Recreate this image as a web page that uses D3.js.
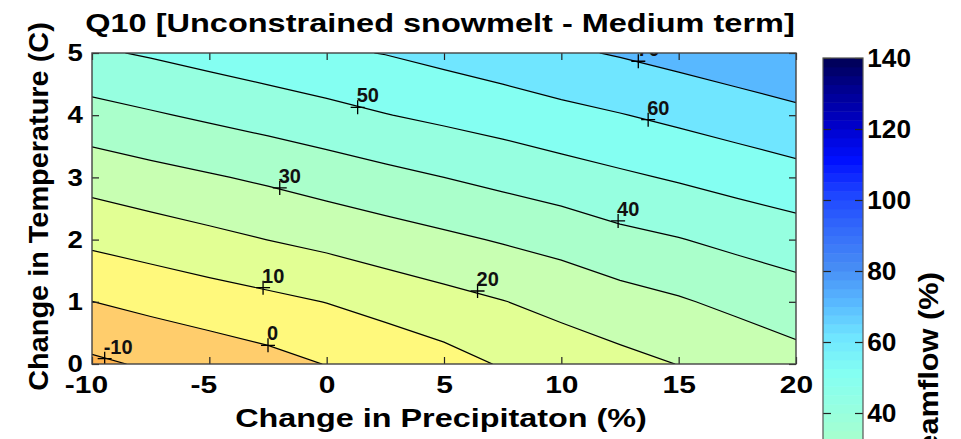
<!DOCTYPE html>
<html>
<head>
<meta charset="utf-8">
<script src="https://cdn.jsdelivr.net/npm/d3@7"></script>
<style>
  body { margin: 0; background: #fff; }
  svg { display: block; font-family: "Liberation Sans", Arial, Helvetica, sans-serif; }
</style>
</head>
<body>
<svg id="chart"></svg>
<script>
// grid: columns = change in precipitation, rows = change in temperature
const precip = [-10, -7.5, -5, -2.5, 0, 2.5, 5, 7.5, 10, 12.5, 15, 17.5, 20];
const temp = [0, 1, 2, 3, 4, 5];
const q10 = [
  [-11.8, -8.7, -6.1, -3.3, 0.3, 2.3, 6.3, 10.8, 14.3, 17.2, 20.2, 22.7, 26.5],
  [-0.1, 2.7, 5.3, 7.7, 10.2, 13.8, 16.8, 19.7, 22.9, 26.2, 29.0, 32.4, 35.4],
  [12.1, 14.7, 17.4, 20.1, 22.7, 25.4, 28.1, 30.8, 33.5, 37.2, 39.6, 42.5, 45.1],
  [23.8, 26.6, 29.1, 31.6, 34.5, 37.3, 40.0, 42.8, 45.6, 48.4, 51.0, 53.8, 56.6],
  [36.4, 39.0, 41.6, 44.2, 46.8, 49.7, 52.1, 54.5, 57.2, 59.6, 62.3, 65.1, 67.8],
  [48.6, 51.0, 53.6, 56.1, 58.6, 60.3, 62.9, 65.5, 68.4, 70.8, 73.4, 76.0, 78.6]
];
const levels = [-10, 0, 10, 20, 30, 40, 50, 60, 70];

// clabel spots
const labelLevel = [-10, 0, 10, 20, 30, 40, 50, 60, 70];
const labelP = [-9.46, -2.5, -2.71, 6.43, -2.0, 12.42, 1.32, 13.7, 13.28];
const labelT = [0.085, 0.3, 1.227, 1.174, 2.83, 2.3, 4.127, 3.928, 4.867];

const xTicks = [-10, -5, 0, 5, 10, 15, 20];
const yTicks = [0, 1, 2, 3, 4, 5];
const cbTicks = [-20, 0, 20, 40, 60, 80, 100, 120, 140];
const cbRange = [-20, 140];

// colormap
const cmapVals = [-20, -10, 0, 10, 20, 30, 40, 50, 60, 70, 80, 90, 100, 110, 120, 130, 140];
const cmapCols = ["#ffb450", "#ffcd6c", "#fff97c", "#e2ff94", "#c8ffb2", "#aaffcb", "#96ffe0",
  "#84fff2", "#70e6ff", "#58b8ff", "#468cf5", "#346cfa", "#1e46ff", "#0010ff", "#0000c8",
  "#000090", "#00004a"];

const W = 961, H = 439;
const x = d3.scaleLinear().domain([-10, 20]).range([92, 796]);
const y = d3.scaleLinear().domain([0, 5]).range([364, 53]);
const cb = d3.scaleLinear().domain([140, 40]).range([58, 413]);
const color = d3.scaleLinear().domain(cmapVals).range(cmapCols).clamp(true);
const plain = (d) => String(d); // keep the ascii hyphen like matlab

const svg = d3.select("#chart").attr("width", W).attr("height", H);

svg.append("defs").append("clipPath").attr("id", "plotclip")
  .append("rect")
  .attr("x", x(-10)).attr("y", y(5))
  .attr("width", x(20) - x(-10)).attr("height", y(0) - y(5));

// contours: grid value i sits at grid coord i + 0.5
const nx = precip.length, ny = temp.length;
const dP = precip[1] - precip[0], dT = temp[1] - temp[0];
const bands = d3.contours().size([nx, ny]).thresholds(levels)(q10.flat());
const proj = d3.geoTransform({
  point(px, py) {
    this.stream.point(x(precip[0] + (px - 0.5) * dP), y(temp[0] + (py - 0.5) * dT));
  }
});
const path = d3.geoPath(proj);

const plot = svg.append("g").attr("clip-path", "url(#plotclip)");
plot.append("rect")
  .attr("x", x(-10)).attr("y", y(5))
  .attr("width", x(20) - x(-10)).attr("height", y(0) - y(5))
  .attr("fill", color(-20));
plot.selectAll("path.band").data(bands).join("path")
  .attr("class", "band")
  .attr("d", path)
  .attr("fill", (d) => color(d.value));
plot.selectAll("path.iso").data(bands).join("path")
  .attr("class", "iso")
  .attr("d", path)
  .attr("fill", "none")
  .attr("stroke", "#000")
  .attr("stroke-width", 1.2);

const spots = labelLevel.map((v, i) => ({ v, p: labelP[i], t: labelT[i] }));
plot.selectAll("path.mark").data(spots).join("path")
  .attr("class", "mark")
  .attr("d", (d) => `M${x(d.p) - 7},${y(d.t)}h14M${x(d.p)},${y(d.t) - 7}v14`)
  .attr("stroke", "#000")
  .attr("stroke-width", 1.3);
plot.selectAll("text.clab").data(spots).join("text")
  .attr("class", "clab")
  .attr("x", (d) => x(d.p) - 1)
  .attr("y", (d) => y(d.t) - 5)
  .attr("font-size", 20)
  .attr("font-weight", "bold")
  .attr("fill", "#111")
  .text((d) => plain(d.v));

// axes
const stretch = (sel, sx) => sel.attr("transform", `scale(${sx},1)`);
const cleanAxis = (g) => {
  g.select(".domain").remove();
  g.attr("font-size", null).attr("font-family", null).attr("color", "#222");
  g.selectAll("line").attr("stroke-width", 1.2);
};

svg.append("g")
  .attr("transform", `translate(0,${y(0)})`)
  .call(d3.axisBottom(x).tickValues(xTicks).tickFormat(plain)
    .tickSizeInner(-7).tickSizeOuter(0).tickPadding(12))
  .call(cleanAxis)
  .call((g) => g.selectAll("text")
    .attr("font-size", 24).attr("font-weight", "bold").attr("fill", "#000")
    .attr("dx", (d) => (d < 0 ? "-0.2em" : 0))
    .call(stretch, 1.25));

svg.append("g")
  .attr("transform", `translate(0,${y(5)})`)
  .call(d3.axisTop(x).tickValues(xTicks).tickSizeInner(-7).tickSizeOuter(0).tickFormat(() => ""))
  .call(cleanAxis);

svg.append("g")
  .attr("transform", `translate(${x(-10)},0)`)
  .call(d3.axisLeft(y).tickValues(yTicks).tickFormat(plain)
    .tickSizeInner(-7).tickSizeOuter(0).tickPadding(8))
  .call(cleanAxis)
  .call((g) => g.selectAll("text")
    .attr("font-size", 24).attr("font-weight", "bold").attr("fill", "#000")
    .call(stretch, 1.15));

svg.append("g")
  .attr("transform", `translate(${x(20)},0)`)
  .call(d3.axisRight(y).tickValues(yTicks).tickSizeInner(-7).tickSizeOuter(0).tickFormat(() => ""))
  .call(cleanAxis);

svg.append("rect")
  .attr("x", x(-10)).attr("y", y(5))
  .attr("width", x(20) - x(-10)).attr("height", y(0) - y(5))
  .attr("fill", "none").attr("stroke", "#444").attr("stroke-width", 1.4);

// colorbar
const cbX = 823, cbW = 40, cbStep = 2.5;
svg.append("g").selectAll("rect").data(d3.range(cbRange[0], cbRange[1], cbStep)).join("rect")
  .attr("x", cbX).attr("width", cbW)
  .attr("y", (d) => cb(d + cbStep))
  .attr("height", (d) => cb(d) - cb(d + cbStep) + 0.5)
  .attr("fill", (d) => color(d));

svg.append("g")
  .attr("transform", `translate(${cbX + cbW},0)`)
  .call(d3.axisRight(cb).tickValues(cbTicks).tickFormat(plain)
    .tickSizeInner(-8).tickSizeOuter(0).tickPadding(4))
  .call(cleanAxis)
  .call((g) => g.selectAll("text")
    .attr("font-size", 25).attr("font-weight", "bold").attr("fill", "#000")
    .call(stretch, 1.05));

svg.append("g")
  .attr("transform", `translate(${cbX},0)`)
  .call(d3.axisLeft(cb).tickValues(cbTicks).tickSizeInner(-8).tickSizeOuter(0).tickFormat(() => ""))
  .call(cleanAxis);

svg.append("rect")
  .attr("x", cbX).attr("y", cb(cbRange[1]))
  .attr("width", cbW).attr("height", cb(cbRange[0]) - cb(cbRange[1]))
  .attr("fill", "none").attr("stroke", "#555").attr("stroke-width", 1.2);

// titles
svg.append("text")
  .attr("transform", "translate(440,31.5) scale(1.3,1)")
  .attr("text-anchor", "middle")
  .attr("font-size", 25).attr("font-weight", "bold")
  .text("Q10 [Unconstrained snowmelt - Medium term]");

svg.append("text")
  .attr("transform", "translate(441,426.5) scale(1.27,1)")
  .attr("text-anchor", "middle")
  .attr("font-size", 25.5).attr("font-weight", "bold")
  .text("Change in Precipitaton (%)");

svg.append("text")
  .attr("transform", "translate(48,206.5) rotate(-90) scale(1.07,1)")
  .attr("text-anchor", "middle")
  .attr("font-size", 27).attr("font-weight", "bold")
  .text("Change in Temperature (C)");

svg.append("text")
  .attr("transform", "translate(938,272) rotate(-90) scale(1.1,1)")
  .attr("text-anchor", "end")
  .attr("font-size", 28).attr("font-weight", "bold")
  .text("Change in streamflow (%)");
</script>
</body>
</html>
